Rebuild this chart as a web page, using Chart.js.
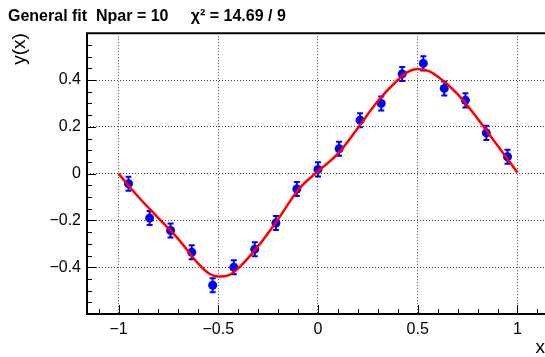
<!DOCTYPE html>
<html>
<head>
<meta charset="utf-8">
<script src="https://cdn.jsdelivr.net/npm/chart.js@4.4.0/dist/chart.umd.min.js"></script>
<style>
  body { margin: 0; background: #fff; }
</style>
</head>
<body>
<canvas id="chart" width="545" height="357"></canvas>
<script>
// measured points with their errors
const xPts = [-0.95, -0.844, -0.739, -0.633, -0.528, -0.422, -0.317, -0.211, -0.106, 0,
              0.106, 0.211, 0.317, 0.422, 0.528, 0.633, 0.739, 0.844, 0.95];
const yPts = [-0.043, -0.19, -0.243, -0.336, -0.477, -0.40, -0.323, -0.211, -0.066, 0.018,
              0.106, 0.228, 0.30, 0.426, 0.471, 0.364, 0.313, 0.174, 0.072];
const yErr = [0.03, 0.03, 0.03, 0.03, 0.03, 0.03, 0.03, 0.03, 0.03, 0.03,
              0.03, 0.03, 0.03, 0.03, 0.03, 0.03, 0.03, 0.03, 0.03];

// fitted function
const fitX = [-1, -0.9, -0.8, -0.7, -0.6, -0.55, -0.5, -0.45, -0.4, -0.3, -0.2, -0.1, 0,
              0.1, 0.2, 0.3, 0.4, 0.45, 0.5, 0.55, 0.6, 0.7, 0.8, 0.9, 1];
const fitY = [0, -0.10, -0.19, -0.28, -0.385, -0.425, -0.44, -0.435, -0.405, -0.31, -0.195, -0.07, 0.01,
              0.085, 0.195, 0.31, 0.40, 0.435, 0.447, 0.44, 0.415, 0.34, 0.235, 0.12, 0.005];

const xTicks = [-1, -0.5, 0, 0.5, 1];
const yTicks = [-0.4, -0.2, 0, 0.2, 0.4];

const fmt = v => String(+v.toFixed(1)).replace('-', '\u2212');

// error bars under the markers, frame and inward ROOT-style ticks on top
const rootFrame = {
    id: 'rootFrame',
    beforeDatasetsDraw(chart) {
        const ctx = chart.ctx;
        const xs = chart.scales.x, ys = chart.scales.y;
        ctx.save();
        ctx.strokeStyle = '#0000ff';
        ctx.lineWidth = 2;
        xPts.forEach((xv, i) => {
            const px = xs.getPixelForValue(xv);
            const lo = ys.getPixelForValue(yPts[i] - yErr[i]);
            const hi = ys.getPixelForValue(yPts[i] + yErr[i]);
            ctx.beginPath();
            ctx.moveTo(px, lo); ctx.lineTo(px, hi);
            ctx.moveTo(px - 3, lo); ctx.lineTo(px + 3, lo);
            ctx.moveTo(px - 3, hi); ctx.lineTo(px + 3, hi);
            ctx.stroke();
        });
        ctx.restore();
    },
    afterDraw(chart) {
        const ctx = chart.ctx;
        const {left, top, right, bottom} = chart.chartArea;
        const xs = chart.scales.x, ys = chart.scales.y;
        ctx.save();
        ctx.strokeStyle = '#000';
        ctx.lineWidth = 1;
        ctx.beginPath();
        for (let k = -11; k <= 11; k++) {
            const px = Math.round(xs.getPixelForValue(k / 10)) + 0.5;
            const len = k % 5 === 0 ? 9 : 5;
            ctx.moveTo(px, bottom); ctx.lineTo(px, bottom - len);
        }
        for (let k = -12; k <= 12; k++) {
            const py = Math.round(ys.getPixelForValue(k * 0.05)) + 0.5;
            const len = k % 4 === 0 ? 9 : 5;
            ctx.moveTo(left, py); ctx.lineTo(left + len, py);
        }
        ctx.stroke();
        ctx.lineWidth = 2;
        ctx.beginPath();
        ctx.moveTo(chart.width, top); ctx.lineTo(left, top);
        ctx.lineTo(left, bottom); ctx.lineTo(chart.width, bottom);
        ctx.stroke();
        ctx.restore();
    }
};

document.addEventListener('DOMContentLoaded', () => {
    const data = {
        datasets: [{
            label: 'fit',
            data: fitX.map((x, i) => ({x: x, y: fitY[i]})),
            showLine: true,
            borderColor: '#ff0000',
            borderWidth: 2.5,
            pointRadius: 0,
            cubicInterpolationMode: 'monotone'
        }, {
            label: 'data',
            data: xPts.map((x, i) => ({x: x, y: yPts[i]})),
            backgroundColor: '#0000ff',
            borderWidth: 0,
            pointRadius: 4.5
        }]
    };

    const config = {
        type: 'scatter',
        data: data,
        options: {
            responsive: false,
            animation: false,
            layout: { autoPadding: false, padding: { left: 8, right: 0, top: 0, bottom: 0 } },
            plugins: {
                legend: { display: false },
                tooltip: { enabled: false },
                title: {
                    display: true,
                    align: 'start',
                    text: 'General fit  Npar = 10     \u03c7\u00b2 = 14.69 / 9',
                    color: '#000',
                    font: { family: 'Liberation Sans', size: 16, weight: 'bold', lineHeight: 1.2 },
                    padding: { top: 7, bottom: 7 }
                }
            },
            scales: {
                x: {
                    type: 'linear',
                    min: -1.158,
                    max: 1.138,
                    afterBuildTicks: s => { s.ticks = xTicks.map(v => ({value: v})); },
                    afterFit: s => { s.height = 43; s.paddingLeft = 0; s.paddingRight = 0; },
                    grid: { color: '#444', lineWidth: 1, drawTicks: false },
                    border: { display: false, dash: [1, 2] },
                    ticks: {
                        color: '#000',
                        padding: 6,
                        font: { family: 'Liberation Sans', size: 16 },
                        callback: v => fmt(v)
                    },
                    title: {
                        display: true,
                        text: 'x',
                        align: 'end',
                        color: '#000',
                        font: { family: 'Liberation Sans', size: 19, lineHeight: 1 },
                        padding: 0
                    }
                },
                y: {
                    type: 'linear',
                    min: -0.6,
                    max: 0.6,
                    afterBuildTicks: s => { s.ticks = yTicks.map(v => ({value: v})); },
                    afterFit: s => { s.width = 79; s.paddingTop = 0; s.paddingBottom = 0; },
                    grid: { color: '#444', lineWidth: 1, drawTicks: false },
                    border: { display: false, dash: [1, 2] },
                    ticks: {
                        color: '#000',
                        padding: 6,
                        font: { family: 'Liberation Sans', size: 16 },
                        callback: v => fmt(v)
                    },
                    title: {
                        display: true,
                        text: 'y(x)',
                        align: 'end',
                        color: '#000',
                        font: { family: 'Liberation Sans', size: 19, lineHeight: 1.2 },
                        padding: 0
                    }
                }
            }
        },
        plugins: [rootFrame]
    };

    const ctx = document.getElementById('chart').getContext('2d');
    new Chart(ctx, config);
});
</script>
</body>
</html>
